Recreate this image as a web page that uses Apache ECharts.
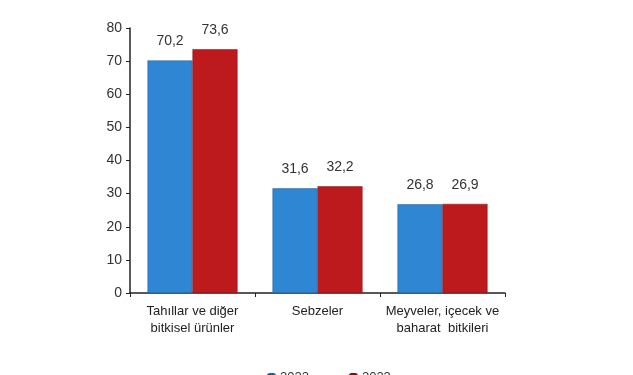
<!DOCTYPE html>
<html><head><meta charset="utf-8">
<script src="https://cdn.jsdelivr.net/npm/echarts@6/dist/echarts.min.js"></script>
<style>html,body{margin:0;padding:0;background:#fff}#c{width:633px;height:375px}</style>
</head><body><div id="c"></div>
<script>
const categories = ["Tahıllar ve diğer\nbitkisel ürünler", "Sebzeler", "Meyveler, içecek ve\nbaharat  bitkileri"];
const seriesNames = ["2022", "2023"];
const values2022 = [70.2, 31.6, 26.8];
const values2023 = [73.6, 32.2, 26.9];
const yTicks = [0, 10, 20, 30, 40, 50, 60, 70, 80];

const chart = echarts.init(document.getElementById('c'));
const font = "'Liberation Sans', Arial, sans-serif";
chart.setOption({
  animation: false,
  legend: {
    data: seriesNames, bottom: -14, left: 262, itemWidth: 7, itemHeight: 7, itemGap: 40,
    textStyle: {fontFamily: font, fontSize: 13, color: '#333'}
  },
  grid: {left: 130, right: 128, top: 28, bottom: 82},
  xAxis: {
    type: 'category', data: categories,
    axisLine: {lineStyle: {color: '#222', width: 1.5}},
    axisTick: {show: true, alignWithLabel: false, length: 4, lineStyle: {color: '#222'}},
    axisLabel: {interval: 0, fontFamily: font, fontSize: 13, color: '#222', lineHeight: 17, margin: 10}
  },
  yAxis: {
    type: 'value', min: yTicks[0], max: yTicks[yTicks.length - 1], interval: 10,
    splitLine: {show: false},
    axisLine: {show: true, lineStyle: {color: '#222', width: 1.5}},
    axisTick: {show: true, length: 4, lineStyle: {color: '#222'}},
    axisLabel: {fontFamily: font, fontSize: 14, color: '#333', margin: 8}
  },
  series: [
    {name: seriesNames[0], type: 'bar', data: values2022, barGap: '0%', barCategoryGap: '28%',
     itemStyle: {color: '#2f86d2', borderColor: '#1f5f99', borderWidth: 0.5},
     label: {show: true, position: 'top', distance: 12, fontFamily: font, fontSize: 14, color: '#333',
       formatter: p => String(p.value).replace('.', ',')}},
    {name: seriesNames[1], type: 'bar', data: values2023,
     itemStyle: {color: '#bd1a1e', borderColor: '#7d0f12', borderWidth: 0.5},
     label: {show: true, position: 'top', distance: 12, fontFamily: font, fontSize: 14, color: '#333',
       formatter: p => String(p.value).replace('.', ',')}}
  ]
});
</script></body></html>
